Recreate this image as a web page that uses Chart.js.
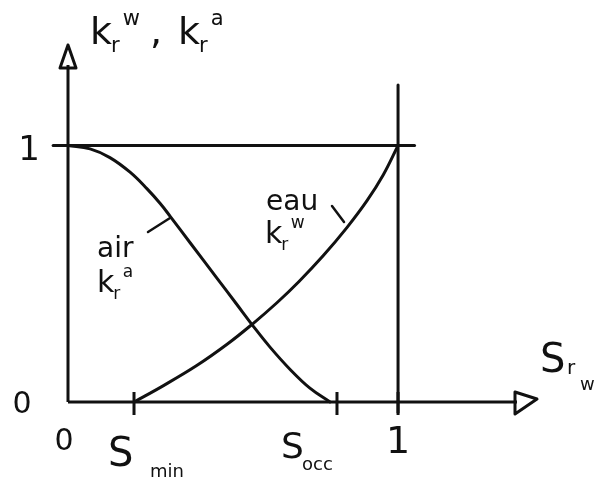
<!DOCTYPE html>
<html>
<head>
<meta charset="utf-8">
<script src="https://cdn.jsdelivr.net/npm/chart.js"></script>
<style>
  body { margin: 0; background: #fff; }
  canvas { display: block; }
</style>
</head>
<body>
<canvas id="kr" width="600" height="484"></canvas>
<script>
// Saturation (S_rw) and relative permeability
const airSat = [0, 0.067, 0.127, 0.188, 0.239, 0.28, 0.309, 0.37, 0.45, 0.51, 0.561, 0.612, 0.673, 0.733, 0.794];
const airKr  = [1, 0.987, 0.953, 0.896, 0.832, 0.773, 0.725, 0.621, 0.485, 0.383, 0.296, 0.214, 0.127, 0.054, 0];
const eauSat = [0.20, 0.288, 0.39, 0.482, 0.558, 0.633, 0.70, 0.773, 0.845, 0.906, 0.955, 1];
const eauKr  = [0, 0.063, 0.142, 0.225, 0.303, 0.387, 0.47, 0.57, 0.68, 0.785, 0.885, 1];

// tick positions on the S axis and their names
const sTicks = [0.2, 0.815, 1];
const sTickNames = ['min', 'occ', '1'];

// reference lines k = 1 and S = 1
const refLineK = [[-0.045, 1], [1.05, 1]];
const refLineS = [[1, -0.04], [1, 1.236]];

const INK = '#111';
const FONT = '"DejaVu Sans", sans-serif';

const toPts = (xs, ys) => xs.map((x, i) => ({ x: x, y: ys[i] }));
const pairPts = arr => arr.map(p => ({ x: p[0], y: p[1] }));

function lineSet(label, data, smooth) {
    return {
        label: label,
        data: data,
        showLine: true,
        borderColor: INK,
        borderWidth: 3,
        pointRadius: 0,
        fill: false,
        clip: false,
        borderCapStyle: 'round',
        tension: smooth ? 0.4 : 0
    };
}

// texte avec indice / exposant
function kText(ctx, x, y, base, sub, sup, size) {
    ctx.font = size + 'px ' + FONT;
    ctx.textAlign = 'left';
    ctx.fillText(base, x, y);
    const w = ctx.measureText(base).width;
    ctx.font = Math.round(size * 0.55) + 'px ' + FONT;
    if (sub) ctx.fillText(sub, x + w - 1, y + size * 0.22);
    if (sup) ctx.fillText(sup, x + w + size * 0.28, y - size * 0.5);
}

const sketchPlugin = {
    id: 'sketch',
    beforeDatasetsDraw(chart) {
        const { ctx, scales: { x, y } } = chart;
        const x0 = x.getPixelForValue(0), y0 = y.getPixelForValue(0);
        const xEnd = x.getPixelForValue(x.max), yEnd = y.getPixelForValue(y.max);
        ctx.save();
        ctx.strokeStyle = INK;
        ctx.lineWidth = 3;
        ctx.lineJoin = 'round';
        // axes
        ctx.beginPath();
        ctx.moveTo(x0, y0); ctx.lineTo(x0, yEnd + 20);
        ctx.moveTo(x0, y0); ctx.lineTo(xEnd - 20, y0);
        ctx.stroke();
        // fleches
        ctx.beginPath();
        ctx.moveTo(x0, yEnd); ctx.lineTo(x0 - 8, yEnd + 23); ctx.lineTo(x0 + 8, yEnd + 23); ctx.closePath();
        ctx.moveTo(xEnd, y0 - 3); ctx.lineTo(xEnd - 22, y0 - 10); ctx.lineTo(xEnd - 22, y0 + 12); ctx.closePath();
        ctx.stroke();
        // graduations
        ctx.beginPath();
        sTicks.forEach(t => {
            const px = x.getPixelForValue(t);
            ctx.moveTo(px, y0 - 10); ctx.lineTo(px, y0 + 13);
        });
        ctx.stroke();
        ctx.restore();
    },
    afterDraw(chart) {
        const { ctx, scales: { x, y } } = chart;
        ctx.save();
        ctx.fillStyle = INK;
        ctx.strokeStyle = INK;
        ctx.textBaseline = 'alphabetic';

        // titre de l'axe vertical
        kText(ctx, 90, 44, 'k', 'r', 'w', 38);
        ctx.font = '38px ' + FONT;
        ctx.fillText(',', 150, 44);
        kText(ctx, 178, 44, 'k', 'r', 'a', 38);

        // graduations de l'axe vertical
        ctx.textAlign = 'center';
        ctx.font = '34px ' + FONT;
        ctx.fillText('1', 29, y.getPixelForValue(1) + 14);
        ctx.font = '30px ' + FONT;
        ctx.fillText('0', 22, y.getPixelForValue(0) + 11);
        ctx.fillText('0', x.getPixelForValue(0) - 4, 450);

        // graduations de l'axe horizontal
        ctx.font = '38px ' + FONT;
        ctx.fillText(sTickNames[2], x.getPixelForValue(sTicks[2]), 453);
        kText(ctx, 108, 466, 'S', null, null, 40);
        ctx.font = '18px ' + FONT;
        ctx.fillText(sTickNames[0], 150, 477);
        kText(ctx, 281, 458, 'S', null, null, 36);
        ctx.font = '18px ' + FONT;
        ctx.textAlign = 'left';
        ctx.fillText(sTickNames[1], 302, 470);

        // titre de l'axe horizontal
        kText(ctx, 540, 372, 'S', null, null, 40);
        ctx.font = '20px ' + FONT;
        ctx.fillText('r', 567, 374);
        ctx.font = '18px ' + FONT;
        ctx.fillText('w', 580, 390);

        // legendes des courbes
        ctx.font = '28px ' + FONT;
        ctx.fillText('air', 97, 257);
        kText(ctx, 97, 292, 'k', 'r', 'a', 30);
        ctx.font = '28px ' + FONT;
        ctx.fillText('eau', 266, 210);
        kText(ctx, 265, 243, 'k', 'r', 'w', 30);

        ctx.lineWidth = 2.5;
        ctx.lineCap = 'round';
        ctx.beginPath();
        ctx.moveTo(148, 232); ctx.lineTo(170, 218);
        ctx.moveTo(332, 206); ctx.lineTo(344, 222);
        ctx.stroke();
        ctx.restore();
    }
};

new Chart(document.getElementById('kr'), {
    type: 'scatter',
    data: {
        datasets: [
            lineSet('k = 1', pairPts(refLineK), false),
            lineSet('S = 1', pairPts(refLineS), false),
            lineSet('air', toPts(airSat, airKr), true),
            lineSet('eau', toPts(eauSat, eauKr), true)
        ]
    },
    options: {
        responsive: false,
        animation: false,
        layout: { padding: { left: 68, right: 63, top: 45, bottom: 82 } },
        plugins: { legend: { display: false }, tooltip: { enabled: false } },
        scales: {
            x: { type: 'linear', min: 0, max: 1.421, display: false },
            y: { type: 'linear', min: 0, max: 1.392, display: false }
        }
    },
    plugins: [sketchPlugin]
});
</script>
</body>
</html>
